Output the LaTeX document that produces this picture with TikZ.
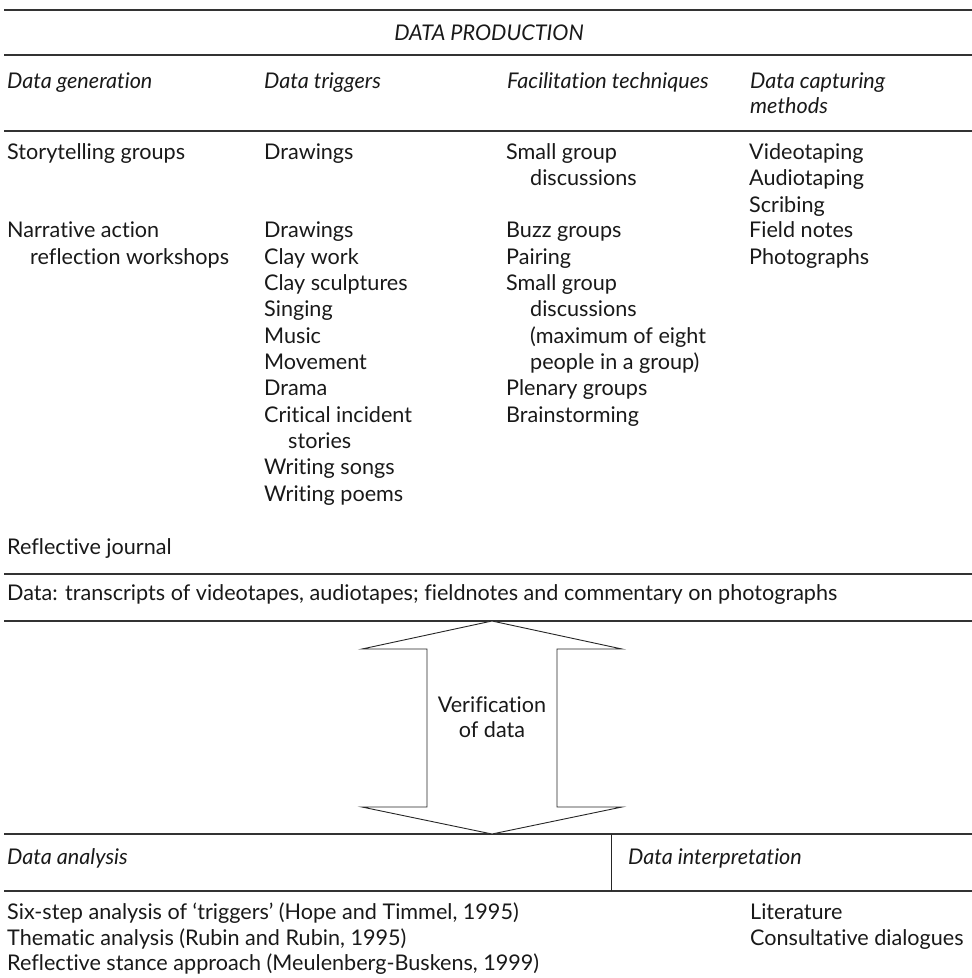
\documentclass[tikz,border=0pt]{standalone}
\usepackage{fontspec}
\setmainfont[Ligatures=NoCommon]{Lato}
\begin{document}
\begin{tikzpicture}[x=1pt,y=-1pt,
  txt/.style={anchor=mid west,inner sep=0pt,text=black!90,font=\fontsize{21.6}{25}\selectfont},
  hd/.style={txt,font=\fontsize{21.6}{25}\selectfont\itshape},
  rule/.style={line width=1.8pt,black!80},
  thin/.style={line width=1.3pt,black!80},
  arrowline/.style={line width=0.9pt,black!85,line join=miter}]
\useasboundingbox (0,0) rectangle (972,978);
% rules
\draw[rule] (4,10) -- (972,10);
\draw[rule] (4,55) -- (972,55);
\draw[rule] (4,131) -- (972,131);
\draw[thin] (4,574) -- (972,574);
\draw[thin] (4,621) -- (972,621);
\draw[rule] (4,834) -- (972,834);
\draw[rule] (4,891) -- (972,891);
\draw[line width=0.9pt,black!85] (611,834) -- (611,891);
% title
\node[hd,anchor=base] (title) at (489,40) {DATA PRODUCTION};
% headers
\node[hd] (h1) at (7,86) {Data generation};
\node[hd] (h2) at (264,86) {Data triggers};
\node[hd] (h3) at (507,86) {Facilitation techniques};
\node[hd] (h4) at (750,86) {Data capturing};
\node[hd] (h4b) at (750,111) {methods};
% column 1
\node[txt] (g1) at (7,157) {Storytelling groups};
\node[txt] (g2) at (7,235) {Narrative action};
\node[txt] (g2b) at (30,262) {reflection workshops};
\node[txt] (g3) at (7,552) {Reflective journal};
% column 2
\node[txt] (t1) at (264,157) {Drawings};
\node[txt] (t2) at (264,235) {Drawings};
\node[txt] (t3) at (264,262) {Clay work};
\node[txt] (t4) at (264,288) {Clay sculptures};
\node[txt] (t5) at (264,314) {Singing};
\node[txt] (t6) at (264,341) {Music};
\node[txt] (t7) at (264,367) {Movement};
\node[txt] (t8) at (264,393) {Drama};
\node[txt] (t9) at (264,420) {Critical incident};
\node[txt] (t9b) at (288,446) {stories};
\node[txt] (t10) at (264,472) {Writing songs};
\node[txt] (t11) at (264,499) {Writing poems};
% column 3
\node[txt] (f1) at (506,157) {Small group};
\node[txt] (f1b) at (530,183) {discussions};
\node[txt] (f2) at (506,235) {Buzz groups};
\node[txt] (f3) at (506,262) {Pairing};
\node[txt] (f4) at (506,288) {Small group};
\node[txt] (f4b) at (530,314) {discussions};
\node[txt] (f4c) at (530,341) {(maximum of eight};
\node[txt] (f4d) at (530,367) {people in a group)};
\node[txt] (f5) at (506,393) {Plenary groups};
\node[txt] (f6) at (506,420) {Brainstorming};
% column 4
\node[txt] (c1) at (749,157) {Videotaping};
\node[txt] (c2) at (749,183) {Audiotaping};
\node[txt] (c3) at (749,210) {Scribing};
\node[txt] (c4) at (749,235) {Field notes};
\node[txt] (c5) at (749,262) {Photographs};
% data line
\node[txt] (data) at (7,598) {Data: transcripts of videotapes, audiotapes; fieldnotes and commentary on photographs};
% double arrow
\coordinate (top) at (492,621);
\coordinate (bot) at (492,834);
\draw[arrowline,fill=white] (top) -- (622,649) -- (557,649) -- (557,807) -- (622,807) -- (bot)
  -- (362,807) -- (427,807) -- (427,649) -- (362,649) -- cycle;
\node[txt,anchor=mid,align=center] (ver) at (492,735) {Verification\\of data};
% bottom section
\node[hd] (a1) at (7,862) {Data analysis};
\node[hd] (a2) at (628,862) {Data interpretation};
\node[txt] (s1) at (7,917) {Six-step analysis of `triggers' (Hope and Timmel, 1995)};
\node[txt] (s2) at (7,943) {Thematic analysis (Rubin and Rubin, 1995)};
\node[txt] (s3) at (7,968) {Reflective stance approach (Meulenberg-Buskens, 1999)};
\node[txt] (i1) at (750,917) {Literature};
\node[txt] (i2) at (750,943) {Consultative dialogues};
\end{tikzpicture}
\end{document}
